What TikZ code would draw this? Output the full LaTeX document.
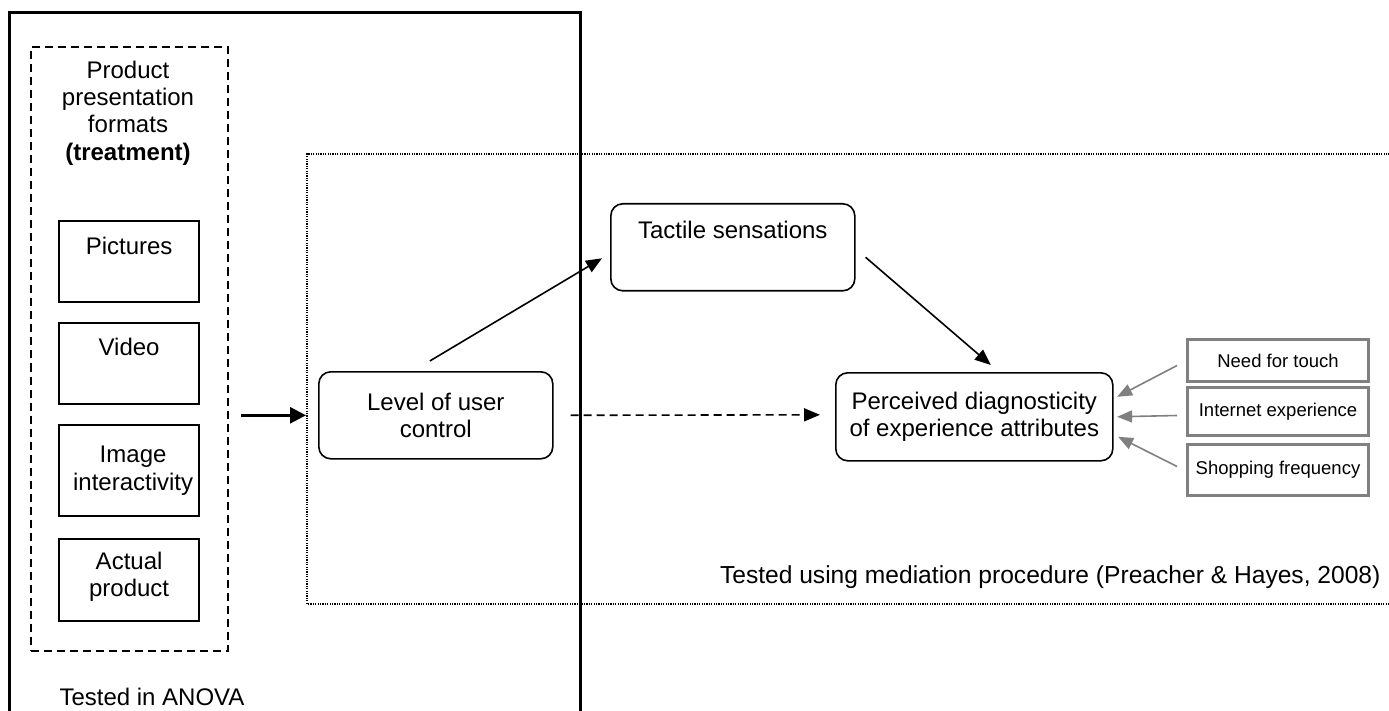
\documentclass[tikz,border=0pt]{standalone}
\usepackage{fontspec}
\setmainfont{Liberation Sans}
\usetikzlibrary{arrows.meta}
\definecolor{modgray}{HTML}{808080}
\tikzset{
  big/.style={font=\fontsize{24}{27.3}\selectfont, align=center},
  small/.style={font=\fontsize{18.5}{21}\selectfont, align=center},
  fbox/.style={draw, line width=2.2pt, rectangle, inner sep=0pt, anchor=north west},
  rbox/.style={draw, line width=1.6pt, rounded corners=12pt, inner sep=0pt, anchor=north west, big},
  gbox/.style={draw=modgray, line width=3pt, rectangle, inner sep=0pt, anchor=north west, small, minimum width=181pt},
  conn/.style={line width=1.6pt, -{Triangle[length=16pt,width=13pt]}},
  gconn/.style={draw=modgray, line width=1.6pt, -{Triangle[length=15pt,width=12pt]}, modgray},
  dotline/.style={line width=1.8pt, dash pattern=on 1.2pt off 1.2pt},
}
\begin{document}
\begin{tikzpicture}[x=1pt,y=-1pt]
\useasboundingbox (0,0) rectangle (1389,711);
% outer solid frame (open at bottom)
\draw[line width=3pt] (9,711) -- (9,13) -- (580,13) -- (580,711);
% dotted mediation frame (open at right)
\draw[dotline] (1392,154) -- (307,154) -- (307,604) -- (1392,604);
% dashed treatment box
\node[draw, line width=2pt, dash pattern=on 8pt off 5pt, anchor=north west, minimum width=197pt, minimum height=603pt, inner sep=0pt] (prod) at (29.5,46.5) {};
\node[big] (prodtxt) at (128,113) {Product\\presentation\\formats\\\textbf{(treatment)}};
% treatment levels
\node[fbox, minimum width=140pt, minimum height=81pt] (pic) at (58,220) {};
\node[big] (pictxt) at ([yshift=-26pt]pic.north) {Pictures};
\node[fbox, minimum width=140pt, minimum height=81pt] (vid) at (58,322) {};
\node[big] (vidtxt) at ([yshift=-25pt]vid.north) {Video};
\node[fbox, minimum width=140pt, minimum height=91pt] (img) at (58,424) {};
\node[big] (imgtxt) at ([xshift=4pt]img.center) {Image\\interactivity};
\node[fbox, minimum width=140pt, minimum height=82pt] (act) at (58,538) {};
\node[big] (acttxt) at ([yshift=3pt]act.center) {Actual\\product};
% main nodes
\node[rbox, minimum width=234pt, minimum height=87pt] (lev) at (318,371) {Level of user\\control};
\node[rbox, minimum width=244pt, minimum height=87pt] (tac) at (610,203) {};
\node[big] (tactxt) at ([yshift=-27pt]tac.north) {Tactile sensations};
\node[rbox, minimum width=277pt, minimum height=88pt] (perc) at (835,372) {Perceived diagnosticity\\of experience attributes};
% moderators
\node[gbox, minimum height=42pt] (nft) at (1186,338) {Need for touch};
\node[gbox, minimum height=48pt] (ie) at (1186,386) {\raisebox{3pt}{Internet experience}};
\node[gbox, minimum height=51pt] (sf) at (1186,443) {\raisebox{3pt}{Shopping frequency}};
% connectors
\draw[line width=2.7pt, -{Triangle[length=16pt,width=16pt]}] ([xshift=12pt]prod.east |- lev.west) -- ([xshift=-12pt]lev.west);
\draw[conn] ([xshift=-6pt,yshift=10pt]lev.north) -- ([xshift=-8pt,yshift=-11pt]tac.west);
\draw[conn] ([xshift=10pt,yshift=-10pt]tac.east) -- ([xshift=16.5pt,yshift=7pt]perc.north);
\draw[conn, dash pattern=on 8pt off 5pt] ([xshift=17pt]lev.east) -- ([xshift=-15pt,yshift=2pt]perc.west);
\draw[gconn] ([xshift=-9pt,yshift=-5pt]nft.west) -- ([xshift=3.5pt,yshift=20pt]perc.east);
\draw[gconn] ([xshift=-9pt,yshift=-4pt]ie.west) -- ([xshift=3.5pt,yshift=0pt]perc.east);
\draw[gconn] ([xshift=-9pt,yshift=3.5pt]sf.west) -- ([xshift=4.5pt,yshift=-20pt]perc.east);
% captions
\node[big, anchor=west] (anova) at (56,697) {Tested in ANOVA};
\node[font=\fontsize{24.6}{28}\selectfont, anchor=east] (medi) at (1384,577) {Tested using mediation procedure (Preacher \& Hayes, 2008)};
\end{tikzpicture}
\end{document}
